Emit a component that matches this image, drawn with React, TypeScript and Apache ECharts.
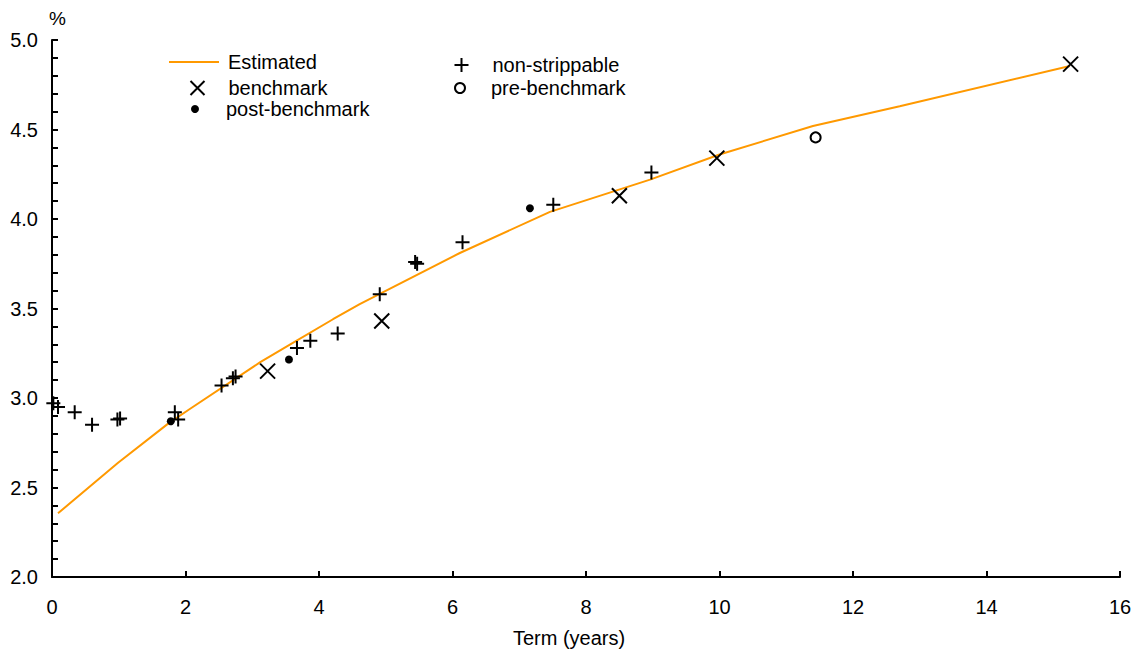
import React, { useEffect, useRef } from "react";
import * as echarts from "echarts";

// Estimated curve (term in years, yield %)
const estimatedTerm = [0.09, 0.99, 1.74, 2.07, 3.12, 3.57, 4.21, 4.61, 6.11, 7.46, 8.96, 10.0, 11.4, 12.7, 15.25];
const estimatedYield = [2.356, 2.638, 2.857, 2.94, 3.2, 3.3, 3.44, 3.525, 3.81, 4.04, 4.22, 4.36, 4.52, 4.63, 4.855];

const benchmarkTerm = [3.23, 4.94, 8.5, 9.96, 15.26];
const benchmarkYield = [3.15, 3.43, 4.13, 4.34, 4.865];

const postBenchmarkTerm = [1.78, 3.55, 7.16];
const postBenchmarkYield = [2.87, 3.215, 4.06];

const nonStrippableTerm = [0.02, 0.09, 0.34, 0.6, 0.98, 1.02, 1.84, 1.89, 2.54, 2.71, 2.75, 3.67, 3.87, 4.28, 4.91, 5.44, 5.47, 6.15, 7.51, 8.98];
const nonStrippableYield = [2.97, 2.95, 2.92, 2.85, 2.88, 2.885, 2.92, 2.88, 3.07, 3.11, 3.12, 3.28, 3.32, 3.36, 3.58, 3.76, 3.75, 3.87, 4.08, 4.26];

const preBenchmarkTerm = [11.44];
const preBenchmarkYield = [4.456];

const xTicks = [0, 16, 2];
const yTicks = [2, 5, 0.1];

const zip = (a: number[], b: number[]) => a.map((v, i) => [v, b[i]]);

const PLUS = "path://M0,7L14,7M7,0L7,14";
const CROSS = "path://M0,0L14,14M14,0L0,14";
const FONT = "Liberation Sans";

const legendItem = (name: string, left: number, centerY: number, itemHeight: number, pad: number, extra: any = {}) => ({
  left,
  top: centerY - 11,
  padding: 0,
  orient: "vertical",
  itemWidth: 50,
  itemHeight,
  textStyle: { fontSize: 20, color: "#000", fontFamily: FONT, padding: [0, 0, 0, pad] },
  data: [{ name, ...extra }],
});

export default function App() {
  const ref = useRef<HTMLDivElement>(null);
  useEffect(() => {
    if (!ref.current) return;
    const chart = echarts.init(ref.current, null, { renderer: "svg" });
    chart.setOption({
      animation: false,
      textStyle: { fontFamily: FONT },
      grid: { left: 52, right: 16, top: 40, bottom: 74, containLabel: false },
      legend: [
        legendItem("Estimated", 168, 63, 14, 4, { itemStyle: { color: "rgba(0,0,0,0)", opacity: 0, borderWidth: 0 } }),
        legendItem("benchmark", 188, 89, 14, 1),
        legendItem("post-benchmark", 191, 110, 8, 1),
        legendItem("non-strippable", 452, 66, 14, 1),
        legendItem("pre-benchmark", 454, 89, 10, 1),
      ],
      xAxis: {
        type: "value",
        min: xTicks[0],
        max: xTicks[1],
        interval: xTicks[2],
        name: "Term (years)",
        nameLocation: "middle",
        nameGap: 51,
        nameTextStyle: { fontSize: 20, color: "#000", fontFamily: FONT, padding: [0, 34, 0, 0] },
        axisLine: { lineStyle: { color: "#000", width: 2 } },
        axisTick: { inside: true, length: 6, lineStyle: { color: "#000", width: 2 } },
        axisLabel: { fontSize: 20, color: "#000", margin: 20, fontFamily: FONT },
        splitLine: { show: false },
      },
      yAxis: {
        type: "value",
        min: yTicks[0],
        max: yTicks[1],
        interval: yTicks[2],
        name: "%",
        nameLocation: "end",
        nameGap: 12,
        nameTextStyle: { fontSize: 19, color: "#000", fontFamily: FONT, align: "left", padding: [0, 0, 0, -3] },
        axisLine: { lineStyle: { color: "#000", width: 2 } },
        axisTick: { inside: true, length: 6, lineStyle: { color: "#000", width: 2 } },
        axisLabel: {
          fontSize: 20,
          color: "#000",
          margin: 14,
          fontFamily: FONT,
          formatter: (v: number) => (Math.abs(v * 2 - Math.round(v * 2)) < 1e-6 ? v.toFixed(1) : ""),
        },
        splitLine: { show: false },
      },
      series: [
        {
          name: "Estimated",
          type: "line",
          data: zip(estimatedTerm, estimatedYield),
          showSymbol: false,
          symbol: "none",
          lineStyle: { color: "#FF9900", width: 2 },
          itemStyle: { color: "#FF9900" },
          z: 1,
        },
        {
          name: "non-strippable",
          type: "scatter",
          data: zip(nonStrippableTerm, nonStrippableYield),
          symbol: PLUS,
          symbolSize: 14,
          itemStyle: { color: "none", borderColor: "#000", borderWidth: 2, opacity: 1 },
          z: 3,
        },
        {
          name: "benchmark",
          type: "scatter",
          data: zip(benchmarkTerm, benchmarkYield),
          symbol: CROSS,
          symbolSize: 15,
          itemStyle: { color: "none", borderColor: "#000", borderWidth: 2, opacity: 1 },
          z: 3,
        },
        {
          name: "pre-benchmark",
          type: "scatter",
          data: zip(preBenchmarkTerm, preBenchmarkYield),
          symbol: "circle",
          symbolSize: 10,
          itemStyle: { color: "#fff", borderColor: "#000", borderWidth: 2, opacity: 1 },
          z: 3,
        },
        {
          name: "post-benchmark",
          type: "scatter",
          data: zip(postBenchmarkTerm, postBenchmarkYield),
          symbol: "circle",
          symbolSize: 8,
          itemStyle: { color: "#000", opacity: 1 },
          z: 3,
        },
      ],
    });
    return () => chart.dispose();
  }, []);
  return <div ref={ref} style={{ width: 1136, height: 653, position: "absolute", left: 0, top: 0 }} />;
}
